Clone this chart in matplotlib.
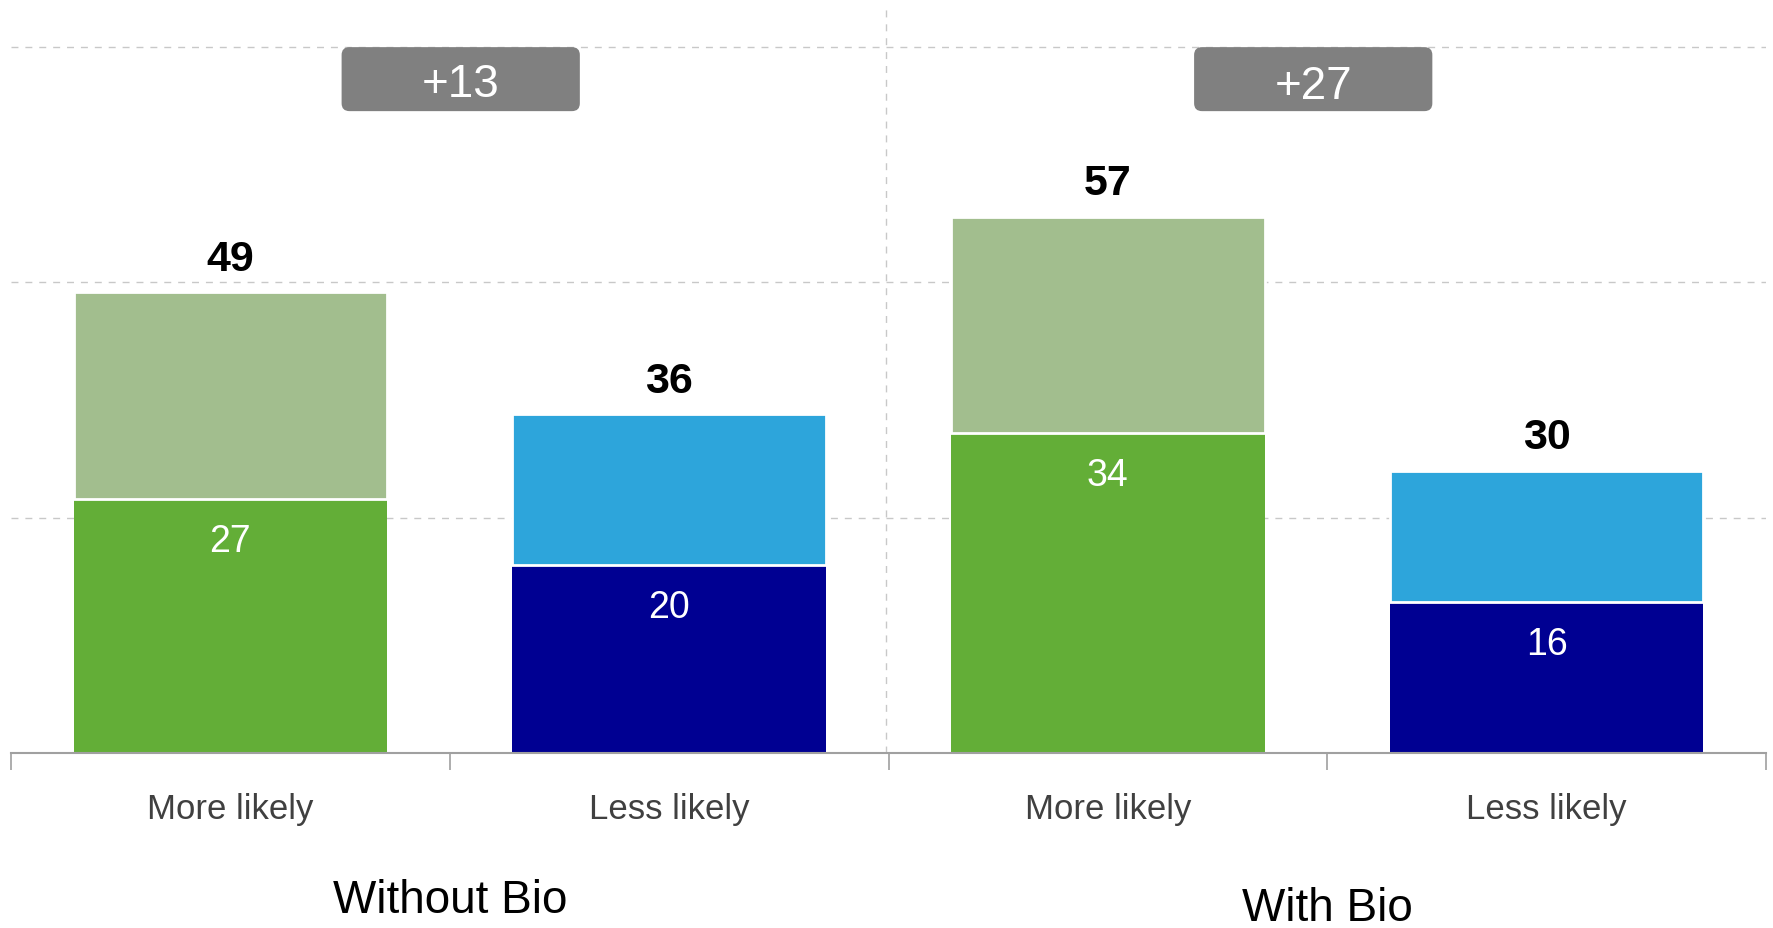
import matplotlib.pyplot as plt
from matplotlib.patches import FancyBboxPatch

# data
categories = ["More likely", "Less likely", "More likely", "Less likely"]
groups = ["Without Bio", "With Bio"]
base_vals = [27, 20, 34, 16]      # strongly
total_vals = [49, 36, 57, 30]     # strongly + somewhat
diffs = ["+13", "+27"]

dark_cols = ["#63AE37", "#000092", "#63AE37", "#000092"]
light_cols = ["#A2BE8E", "#2DA5DB", "#A2BE8E", "#2DA5DB"]

plt.rcParams['font.family'] = ['Liberation Sans', 'DejaVu Sans']

fig = plt.figure(figsize=(17.74, 9.29), dpi=100)
ax = fig.add_axes([0.0062, 0.1884, 0.9893, 0.8003])

x = list(range(len(categories)))
top_vals = [t - b for t, b in zip(total_vals, base_vals)]

ax.bar(x, base_vals, width=0.715, color=dark_cols, zorder=2)
ax.bar(x, top_vals, bottom=base_vals, width=0.715, color=light_cols,
       edgecolor="white", linewidth=2, zorder=2)

ax.set_xlim(-0.5, 3.5)
ax.set_ylim(0, 79)

# dashed grid + divider
for g in [25, 50, 75]:
    ax.axhline(g, color="#C8C8C8", lw=1, ls=(0, (5, 5)), zorder=0)
ax.axvline(1.494, color="#C8C8C8", lw=1, ls=(0, (5, 5)), zorder=0)

for s in ["top", "right", "left"]:
    ax.spines[s].set_visible(False)
ax.spines["bottom"].set_color("#A0A0A0")
ax.spines["bottom"].set_linewidth(1.5)
ax.set_yticks([])
ax.set_xticks([-0.5, 0.5, 1.5, 2.5, 3.5])
ax.set_xticklabels([])
ax.tick_params(axis="x", length=12, width=1.2, color="#A0A0A0", direction="out")

for i in x:
    ax.annotate(str(total_vals[i]), (i, total_vals[i]), xytext=(0, 16),
                textcoords="offset points", ha="center", va="baseline",
                fontsize=31, fontweight="bold", color="black")
    ax.annotate(str(base_vals[i]), (i, base_vals[i]), xytext=(0, -37.5),
                textcoords="offset points", ha="center", va="baseline",
                fontsize=27, color="white")
    ax.text(i, -6.9, categories[i], ha="center", va="baseline",
            fontsize=25, color="#404040", clip_on=False)

ax.text(0.5, -16.9, groups[0], ha="center", va="baseline", fontsize=33,
        color="black", clip_on=False)
ax.text(2.5, -17.7, groups[1], ha="center", va="baseline", fontsize=33,
        color="black", clip_on=False)

# grey difference badges
badge_x = [0.525, 2.468]
badge_base = [69.8, 69.6]
for bx, by, lab in zip(badge_x, badge_base, diffs):
    w, h = 0.543, 6.8
    box = FancyBboxPatch((bx - w / 2, 68.2), w, h,
                         boxstyle="round,pad=0,rounding_size=0.018",
                         mutation_aspect=46, facecolor="#808080",
                         edgecolor="none", zorder=3)
    ax.add_patch(box)
    ax.text(bx, by, lab, ha="center", va="baseline", fontsize=33,
            color="white", zorder=4)

fig.savefig("out.png", dpi=100)
